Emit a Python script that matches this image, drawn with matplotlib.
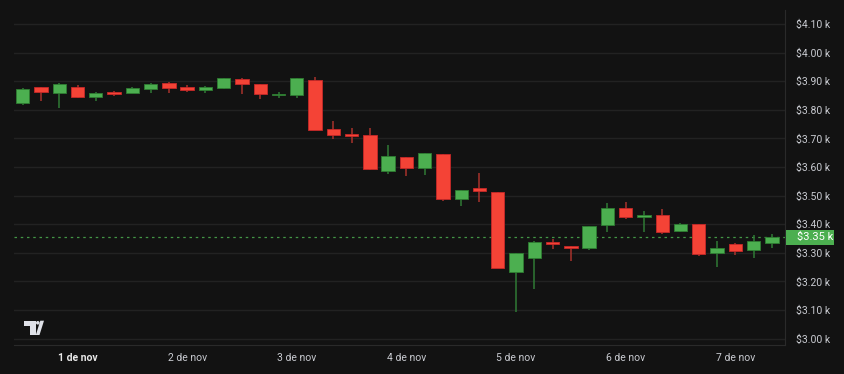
import matplotlib
matplotlib.use("Agg")
from matplotlib import pyplot as plt
from matplotlib.patches import Polygon, Circle, Rectangle

# 4h candles, 31 oct 12:00 -> 7 nov 16:00
opens  = [3825, 3879, 3860, 3880, 3845, 3862, 3858, 3874, 3893, 3879, 3871, 3877,
          3908, 3890, 3851, 3851, 3905, 3734, 3716, 3712, 3587, 3634, 3598, 3645,
          3487, 3526, 3512, 3232, 3283, 3339, 3324, 3318, 3397, 3456, 3427, 3431,
          3378, 3400, 3299, 3331, 3311, 3334]
highs  = [3875, 3880, 3895, 3887, 3862, 3866, 3880, 3893, 3898, 3888, 3883, 3911,
          3910, 3892, 3863, 3911, 3915, 3761, 3738, 3736, 3676, 3636, 3650, 3647,
          3521, 3578, 3512, 3299, 3343, 3348, 3324, 3393, 3474, 3478, 3447, 3453,
          3405, 3400, 3342, 3336, 3362, 3366]
lows   = [3817, 3832, 3808, 3843, 3832, 3849, 3858, 3858, 3860, 3864, 3860, 3874,
          3855, 3838, 3843, 3843, 3730, 3699, 3685, 3590, 3575, 3569, 3572, 3480,
          3465, 3478, 3246, 3094, 3174, 3314, 3270, 3310, 3374, 3417, 3374, 3367,
          3374, 3290, 3249, 3291, 3283, 3317]
closes = [3873, 3864, 3890, 3845, 3858, 3857, 3877, 3892, 3878, 3871, 3879, 3910,
          3890, 3855, 3856, 3910, 3731, 3713, 3710, 3593, 3638, 3598, 3648, 3487,
          3521, 3515, 3248, 3299, 3339, 3332, 3318, 3393, 3456, 3424, 3434, 3373,
          3400, 3295, 3317, 3306, 3343, 3355]

day_pos = [3, 9, 15, 21, 27, 33, 39]
day_labels = ["1 de nov", "2 de nov", "3 de nov", "4 de nov", "5 de nov", "6 de nov", "7 de nov"]
price_ticks = [3000, 3100, 3200, 3300, 3400, 3500, 3600, 3700, 3800, 3900, 4000, 4100]

bg = "#121212"
up, down = "#4caf50", "#f44336"
up_wick, down_wick = "#2f7a35", "#a8322c"
grid_c = "#222222"
txt_c = "#c9cbd1"

plt.rcParams["font.family"] = ["Roboto", "DejaVu Sans"]

fig = plt.figure(figsize=(8.44, 3.74), dpi=100, facecolor=bg)
ax = fig.add_axes([14 / 844, 29 / 374, (785 - 14) / 844, (345 - 10) / 374], facecolor=bg)

xs = list(range(len(opens)))
for i in xs:
    o, h, l, c = opens[i], highs[i], lows[i], closes[i]
    is_up = c >= o
    ax.vlines(i, l, h, color=up_wick if is_up else down_wick, linewidth=1.1, zorder=2)
    bottom = min(o, c)
    height = max(abs(c - o), 4)
    col = up if is_up else down
    ax.bar(i, height, bottom=bottom, width=0.73, color=col,
           edgecolor="#2e7d32" if is_up else "#c62828", linewidth=0.6, zorder=3)

# last price line + label
last = closes[-1]
ax.axhline(last, color=up, linestyle=(0, (2, 3)), linewidth=0.9, alpha=0.85, zorder=1)
ytr = ax.get_yaxis_transform()
ax.add_patch(Rectangle((1.0013, last - 26), 0.0623, 52, transform=ytr, clip_on=False,
                       facecolor=up, edgecolor="none", zorder=5))
ax.text(1.0156, last, "$3.35 k", transform=ytr, color="white", fontsize=8,
        va="center", ha="left", zorder=6, clip_on=False)

ax.set_xlim(-0.476, 41.72)
ax.set_ylim(2978, 4149)

ax.set_yticks(price_ticks)
ax.set_yticklabels(["$%.2f k" % (p / 1000) for p in price_ticks])
ax.yaxis.tick_right()
ax.tick_params(axis="y", length=0, pad=8, labelsize=7.5, labelcolor=txt_c)
ax.set_xticks(day_pos)
ax.set_xticklabels(day_labels)
ax.tick_params(axis="x", length=0, pad=6, labelsize=7.5, labelcolor=txt_c)
ax.get_xticklabels()[0].set_fontweight("bold")
ax.get_xticklabels()[0].set_color("#e8e8e8")

ax.grid(axis="y", color=grid_c, linewidth=1)
ax.grid(axis="x", visible=False)
for s in ["top", "left"]:
    ax.spines[s].set_visible(False)
ax.spines["bottom"].set_color("#2a2a2a")
ax.spines["right"].set_color("#2a2a2a")

# TradingView logo (pixel coordinates)
H = 374
logo_c = "#dfe1e8"
def px(pts):
    return [(x, H - y) for x, y in pts]
fig.patches.append(Polygon(px([(24, 320.7), (35.7, 320.7), (35.7, 335), (30, 335), (30, 325.7), (24, 325.7)]),
                           closed=True, transform=None, facecolor=logo_c, edgecolor="none"))
fig.patches.append(Circle((37.8, H - 322.8), 1.8, transform=None, facecolor=logo_c, edgecolor="none"))
fig.patches.append(Polygon(px([(40.3, 320.7), (44, 320.7), (39.5, 335), (35.8, 335)]),
                           closed=True, transform=None, facecolor=logo_c, edgecolor="none"))

fig.savefig("out.png", dpi=100, facecolor=bg)
